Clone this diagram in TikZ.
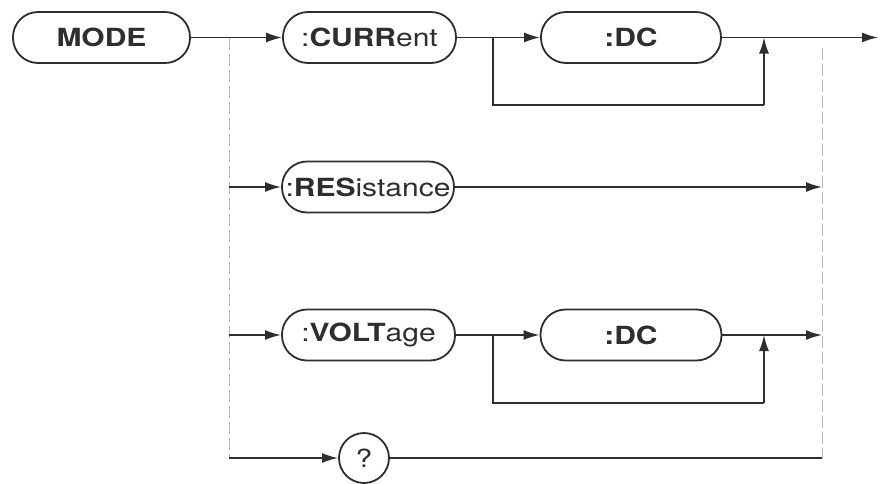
\documentclass[tikz,border=0pt]{standalone}
\usepackage{fontspec}
\setsansfont[FakeStretch=1.2]{TeX Gyre Heros}
\usetikzlibrary{arrows.meta}
\definecolor{ink}{gray}{0.18}

\begin{document}
\begin{tikzpicture}[x=0.5pt,y=-0.5pt,
  cmd/.style={draw=ink,line width=0.9pt,rounded corners=12.5pt,
    minimum height=25.5pt,inner sep=0pt,text=ink,
    font=\sffamily\fontsize{12.5}{14}\selectfont},
  flow/.style={draw=ink,line width=0.9pt,-{Latex[length=8pt,width=5pt]}},
  wire/.style={draw=ink,line width=0.9pt},
  bus/.style={draw=gray!55,line width=0.5pt,dash pattern=on 6pt off 2pt}]

\useasboundingbox (0,0) rectangle (880,483);

% Boxes
\node[cmd,minimum width=88.5pt] (mode) at (101.5,37.5) {\bfseries MODE};
\node[cmd,minimum width=86.5pt] (curr) at (369.5,37.5) {:\textbf{CURR}ent};
\node[cmd,minimum width=90pt] (dca) at (631,37.5) {\bfseries :DC};
\node[cmd,minimum width=86pt] (res) at (368,187) {:\textbf{RES}istance};
\node[cmd,minimum width=86.5pt] (volt) at (368.5,335) {:\textbf{VOLT}age};
\node[cmd,minimum width=90.5pt] (dcb) at (631,335) {\bfseries :DC};
\node[cmd,circle,rounded corners=0pt,minimum size=25pt] (query) at (364,458) {?};

% Split and join points
\coordinate (lsplit) at (229,37.5);
\coordinate (lbot) at (229,458);
\coordinate (rtop) at (822,48);
\coordinate (rbot) at (822,458);
\coordinate (out) at (878,37.5);

% Bypass loops
\coordinate (ua) at (493,37.5);
\coordinate (ub) at (764,37.5);
\coordinate (va) at (493,335);
\coordinate (vb) at (764,335);

% Dashed rails
\draw[bus] (lsplit) -- (lbot);
\draw[bus] (rtop) -- (rbot);

% Top row
\draw[flow] (mode) -- (curr);
\draw[flow] (curr) -- (dca);
\draw[flow] (dca) -- (out);
\draw[wire] (ua) -- ++(0,67.5) -- (ub |- 0,105);
\draw[flow] (ub |- 0,105) -- (ub);

% RESistance row
\draw[flow] (lsplit |- res) -- (res);
\draw[flow] (res) -- (rtop |- res);

% VOLTage row
\draw[flow] (lsplit |- volt) -- (volt);
\draw[flow] (volt) -- (dcb);
\draw[flow] (dcb) -- (rtop |- dcb);
\draw[wire] (va) -- ++(0,68) -- (vb |- 0,403);
\draw[flow] (vb |- 0,403) -- (vb);

% Query row
\draw[flow] (lbot) -- (query);
\draw[wire] (query) -- (rbot);

\end{tikzpicture}
\end{document}
